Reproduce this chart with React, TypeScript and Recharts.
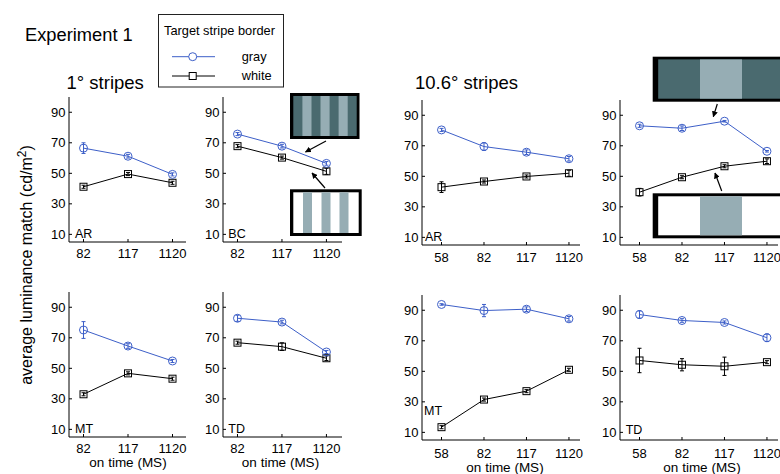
import { ErrorBar, Line, LineChart, XAxis, YAxis } from "recharts";

const BLUE = "#3d5fc8";
const FONT = "'Liberation Sans', Arial, sans-serif";
const DARK = "#4a6a6f";
const LIGHT = "#96adb4";

const onTimes1 = ["82", "117", "1120"];
const onTimes10 = ["58", "82", "117", "1120"];
const yTicks = [10, 30, 50, 70, 90];

// 1° stripes
const ar1Gray = [66.5, 61.2, 49.3];
const ar1GrayErr = [3.5, 1.2, 1];
const ar1White = [41.2, 49.5, 43.8];
const ar1WhiteErr = [1, 1, 1];

const bc1Gray = [75.7, 67.8, 56.5];
const bc1GrayErr = [1, 1.2, 1.2];
const bc1White = [67.8, 60.3, 51.3];
const bc1WhiteErr = [1, 1, 2];

const mt1Gray = [75.1, 64.6, 54.8];
const mt1GrayErr = [5.5, 1.5, 1];
const mt1White = [33.0, 46.7, 43.2];
const mt1WhiteErr = [1, 1, 1];

const td1Gray = [82.8, 80.3, 60.7];
const td1GrayErr = [2, 1.2, 1];
const td1White = [66.8, 64.2, 56.6];
const td1WhiteErr = [1, 2.5, 1.5];

// 10.6° stripes
const ar10Gray = [80.4, 69.5, 65.8, 61.5];
const ar10GrayErr = [1, 2.5, 1.5, 1.5];
const ar10White = [42.9, 46.6, 49.9, 52.0];
const ar10WhiteErr = [3.5, 1, 1, 2];

const bc10Gray = [83.1, 81.5, 86.1, 66.4];
const bc10GrayErr = [1, 1.5, 0.5, 0.5];
const bc10White = [39.6, 49.4, 56.6, 59.9];
const bc10WhiteErr = [2.5, 1, 1, 1.5];

const mt10Gray = [93.8, 89.8, 90.7, 84.4];
const mt10GrayErr = [0.5, 4, 1.5, 1.5];
const mt10White = [13.4, 31.5, 37.0, 51.0];
const mt10WhiteErr = [1, 1, 1, 1];

const td10Gray = [87.2, 83.3, 82.0, 72.0];
const td10GrayErr = [2.5, 1.2, 1, 2.5];
const td10White = [57.1, 54.3, 53.3, 56.0];
const td10WhiteErr = [8, 4, 6, 1];

const YW = 34; // y axis width
const XH = 24; // x axis height
const PAD = 4;
const PH = 145; // plot height

function YTick(p: any) {
  return (
    <g>
      <line x1={p.x} x2={p.x + 3} y1={p.y} y2={p.y} stroke="#000" />
      <text x={p.x - 3.5} y={p.y + 4.6} textAnchor="end" fontSize={13} fontFamily={FONT} fill="#000">
        {p.payload.value}
      </text>
    </g>
  );
}

function squareDot(p: any) {
  return (
    <rect
      key={`sq-${p.index}`}
      x={p.cx - 3.5}
      y={p.cy - 3.5}
      width={7}
      height={7}
      fill="none"
      stroke="#000"
      strokeWidth={1}
    />
  );
}

interface PanelProps {
  left: number;
  top: number;
  w: number;
  cats: string[];
  gray: number[];
  grayErr: number[];
  white: number[];
  whiteErr: number[];
  xDomain: [number, number];
  tickDy: number;
}

function Panel({ left, top, w, cats, gray, grayErr, white, whiteErr, xDomain, tickDy }: PanelProps) {
  const data = cats.map((c, i) => ({
    i: i + 1,
    gray: gray[i],
    grayErr: grayErr[i],
    white: white[i],
    whiteErr: whiteErr[i],
  }));
  const xTick = (p: any) => (
    <g>
      <line x1={p.x} x2={p.x} y1={p.y} y2={p.y - 3} stroke="#000" />
      <text x={p.x} y={p.y + tickDy} textAnchor="middle" fontSize={13} fontFamily={FONT} fill="#000">
        {cats[p.payload.value - 1]}
      </text>
    </g>
  );
  return (
    <div style={{ position: "absolute", left: left - YW, top: top - PAD }}>
      <LineChart
        width={YW + w + PAD}
        height={PAD + PH + XH}
        data={data}
        margin={{ top: PAD, right: PAD, bottom: 0, left: 0 }}
      >
        <XAxis
          type="number"
          dataKey="i"
          domain={xDomain}
          ticks={cats.map((_, i) => i + 1)}
          allowDataOverflow
          interval={0}
          height={XH}
          tickSize={0}
          tickMargin={0}
          tickLine={false}
          axisLine={{ stroke: "#000" }}
          tick={xTick}
        />
        <YAxis
          type="number"
          domain={[5, 100]}
          ticks={yTicks}
          allowDataOverflow
          interval={0}
          width={YW}
          tickSize={0}
          tickMargin={0}
          tickLine={false}
          axisLine={{ stroke: "#000" }}
          tick={YTick}
        />
        <Line
          dataKey="white"
          stroke="#000"
          strokeWidth={1}
          dot={squareDot}
          activeDot={false}
          isAnimationActive={false}
        >
          <ErrorBar dataKey="whiteErr" width={2} stroke="#000" strokeWidth={1} direction="y" isAnimationActive={false} />
        </Line>
        <Line
          dataKey="gray"
          stroke={BLUE}
          strokeWidth={1}
          dot={{ r: 4, stroke: BLUE, fill: "none", strokeWidth: 1 }}
          activeDot={false}
          isAnimationActive={false}
        >
          <ErrorBar dataKey="grayErr" width={2} stroke={BLUE} strokeWidth={1} direction="y" isAnimationActive={false} />
        </Line>
      </LineChart>
    </div>
  );
}

const dom1: [number, number] = [0.674, 3.35];
const dom10: [number, number] = [0.541, 4.26];

function Arrow({ x1, y1, x2, y2 }: { x1: number; y1: number; x2: number; y2: number }) {
  return <line x1={x1} y1={y1} x2={x2} y2={y2} stroke="#000" strokeWidth={1.2} markerEnd="url(#ah)" />;
}

function Overlay() {
  const t = { fontFamily: FONT, fill: "#000" } as const;
  return (
    <svg width={780} height={474} style={{ position: "absolute", left: 0, top: 0, pointerEvents: "none" }}>
      <defs>
        <marker id="ah" viewBox="0 0 10 10" refX="9" refY="5" markerWidth="5" markerHeight="5" orient="auto">
          <path d="M0,0 L10,5 L0,10 z" fill="#000" />
        </marker>
      </defs>
      <text x={25} y={41} fontSize={18.3} {...t}>Experiment 1</text>
      <text x={66.5} y={88.5} fontSize={18.5} {...t}>1° stripes</text>
      <text x={415} y={88.5} fontSize={18.5} {...t}>10.6° stripes</text>

      {/* legend */}
      <rect x={158.5} y={14.5} width={125} height={72.5} fill="#fff" stroke="#222" />
      <text x={164} y={34.5} fontSize={12.8} {...t}>Target stripe border</text>
      <line x1={172} x2={215} y1={56.7} y2={56.7} stroke={BLUE} />
      <circle cx={192.7} cy={56.7} r={4} fill="#fff" stroke={BLUE} />
      <text x={241.7} y={61} fontSize={12.8} {...t}>gray</text>
      <line x1={172} x2={215} y1={76} y2={76} stroke="#000" />
      <rect x={189.2} y={72.5} width={7} height={7} fill="#fff" stroke="#000" />
      <text x={241.7} y={80} fontSize={12.8} {...t}>white</text>

      {/* y label */}
      <text x={31.5} y={265} fontSize={16} textAnchor="middle" transform="rotate(-90 31.5 265)" {...t}>
        average luminance match  (cd/m<tspan dy={-6} fontSize={12}>2</tspan><tspan dy={6}>)</tspan>
      </text>

      {/* x labels */}
      <text x={128} y={467} fontSize={13.5} textAnchor="middle" {...t}>on time (MS)</text>
      <text x={280.5} y={467} fontSize={13.5} textAnchor="middle" {...t}>on time (MS)</text>
      <text x={505} y={472} fontSize={13.5} textAnchor="middle" {...t}>on time (MS)</text>
      <text x={702} y={472} fontSize={13.5} textAnchor="middle" {...t}>on time (MS)</text>

      {/* subjects */}
      <text x={75} y={238.3} fontSize={12.5} {...t}>AR</text>
      <text x={228.3} y={238.3} fontSize={12.5} {...t}>BC</text>
      <text x={425} y={240.7} fontSize={12.5} {...t}>AR</text>
      <text x={75} y={433.3} fontSize={12.5} {...t}>MT</text>
      <text x={228.3} y={433.3} fontSize={12.5} {...t}>TD</text>
      <text x={424} y={415} fontSize={12.5} {...t}>MT</text>
      <text x={625.7} y={434} fontSize={12.5} {...t}>TD</text>

      {/* 1° insets */}
      <rect x={290} y={93} width={69.5} height={46} fill="#000" />
      <rect x={293.3} y={96} width={63.4} height={40} fill={DARK} />
      <rect x={302.4} y={96} width={9.1} height={40} fill={LIGHT} />
      <rect x={320.5} y={96} width={9.1} height={40} fill={LIGHT} />
      <rect x={338.6} y={96} width={9.1} height={40} fill={LIGHT} />
      <rect x={290} y={189.3} width={71.7} height={46.7} fill="#000" />
      <rect x={293.3} y={192.3} width={65.4} height={40.7} fill="#fff" />
      <rect x={303} y={192.3} width={9} height={40.7} fill={LIGHT} />
      <rect x={321.5} y={192.3} width={9} height={40.7} fill={LIGHT} />
      <rect x={339.5} y={192.3} width={9} height={40.7} fill={LIGHT} />
      <Arrow x1={326} y1={141} x2={305.5} y2={152} />
      <Arrow x1={325} y1={188} x2={312} y2={173} />

      {/* 10.6° insets */}
      <rect x={652.7} y={56.7} width={130} height={45} fill="#000" />
      <rect x={658.2} y={59.4} width={125} height={39.3} fill={DARK} />
      <rect x={700} y={59.4} width={42} height={39.3} fill={LIGHT} />
      <rect x={652.7} y={193.3} width={130} height={45} fill="#000" />
      <rect x={658.2} y={196.3} width={125} height={39} fill="#fff" />
      <rect x={700} y={196.3} width={42} height={39} fill={LIGHT} />
      <Arrow x1={717.3} y1={104} x2={713.3} y2={116.7} />
      <Arrow x1={721.7} y1={191} x2={715} y2={173} />
    </svg>
  );
}

export default function App() {
  return (
    <div
      style={{
        position: "absolute",
        left: 0,
        top: 0,
        width: 780,
        height: 474,
        overflow: "hidden",
        background: "#fff",
        fontFamily: FONT,
      }}
    >
      <Panel left={69} top={96.8} w={117} cats={onTimes1} gray={ar1Gray} grayErr={ar1GrayErr} white={ar1White} whiteErr={ar1WhiteErr} xDomain={[0.674, 3.303]} tickDy={15.8} />
      <Panel left={222.5} top={96.8} w={119} cats={onTimes1} gray={bc1Gray} grayErr={bc1GrayErr} white={bc1White} whiteErr={bc1WhiteErr} xDomain={dom1} tickDy={15.8} />
      <Panel left={421.5} top={99.5} w={158} cats={onTimes10} gray={ar10Gray} grayErr={ar10GrayErr} white={ar10White} whiteErr={ar10WhiteErr} xDomain={dom10} tickDy={17} />
      <Panel left={619.5} top={99.5} w={158} cats={onTimes10} gray={bc10Gray} grayErr={bc10GrayErr} white={bc10White} whiteErr={bc10WhiteErr} xDomain={dom10} tickDy={17} />
      <Panel left={69} top={292} w={117} cats={onTimes1} gray={mt1Gray} grayErr={mt1GrayErr} white={mt1White} whiteErr={mt1WhiteErr} xDomain={[0.674, 3.303]} tickDy={16} />
      <Panel left={222.5} top={292} w={119} cats={onTimes1} gray={td1Gray} grayErr={td1GrayErr} white={td1White} whiteErr={td1WhiteErr} xDomain={dom1} tickDy={16} />
      <Panel left={421.5} top={294.5} w={158} cats={onTimes10} gray={mt10Gray} grayErr={mt10GrayErr} white={mt10White} whiteErr={mt10WhiteErr} xDomain={dom10} tickDy={17.5} />
      <Panel left={619.5} top={294.5} w={158} cats={onTimes10} gray={td10Gray} grayErr={td10GrayErr} white={td10White} whiteErr={td10WhiteErr} xDomain={dom10} tickDy={17.5} />
      <Overlay />
    </div>
  );
}
